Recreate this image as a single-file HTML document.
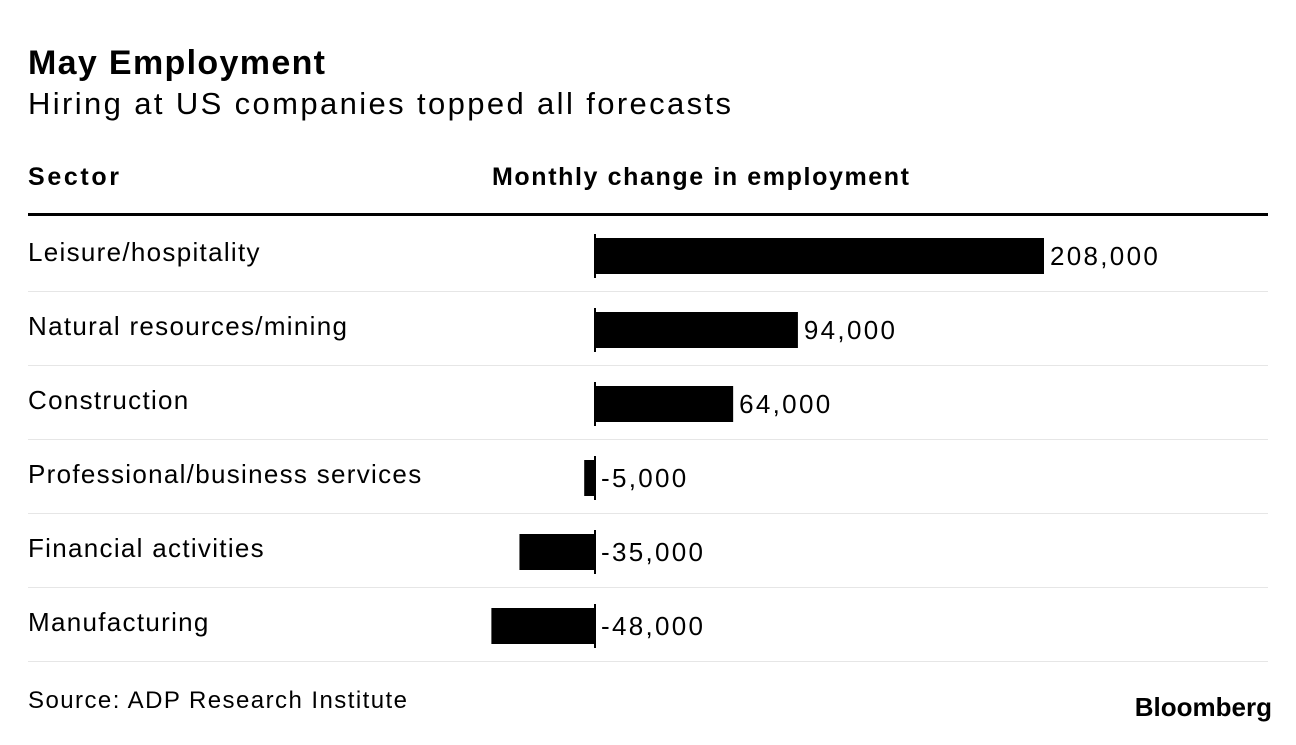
<!DOCTYPE html>
<html><head><meta charset="utf-8"><style>
body{margin:0;background:#fff;width:1296px;height:740px;overflow:hidden;font-family:"Liberation Sans",Arial,sans-serif;color:#000}
svg text{font-family:"Liberation Sans",Arial,sans-serif}
</style></head><body>
<svg width="1296" height="740">
<text x="28" y="74" font-size="34" font-weight="bold" textLength="297" lengthAdjust="spacing">May Employment</text>
<text x="28" y="114" font-size="31" textLength="703" lengthAdjust="spacing">Hiring at US companies topped all forecasts</text>
<text x="28" y="185" font-size="25" font-weight="bold" textLength="91" lengthAdjust="spacing">Sector</text>
<text x="492" y="185" font-size="25" font-weight="bold" textLength="417" lengthAdjust="spacing">Monthly change in employment</text>
<rect x="28" y="213" width="1240" height="3" fill="#000"/>
<g id="rows"></g>
<text x="28" y="708" font-size="24" textLength="379" lengthAdjust="spacing">Source: ADP Research Institute</text>
<text x="1272" y="716" font-size="26" font-weight="bold" text-anchor="end">Bloomberg</text>
</svg>
<script>
const categories=["Leisure/hospitality","Natural resources/mining","Construction","Professional/business services","Financial activities","Manufacturing"];
const values=[208000,94000,64000,-5000,-35000,-48000];
const labels=["208,000","94,000","64,000","-5,000","-35,000","-48,000"];
const NS="http://www.w3.org/2000/svg";
const g=document.getElementById("rows");
const x0=595, k=449/208000;
function xs(v){return x0+v*k;}
function mk(t,a){const e=document.createElementNS(NS,t);for(const n in a)e.setAttribute(n,a[n]);g.appendChild(e);return e;}
categories.forEach((c,i)=>{
  const top=238+i*74;
  let t=mk("text",{x:28,y:top+23,"font-size":26,"letter-spacing":1.3});t.textContent=c;
  
  
  const v=values[i];const a=xs(0),b=xs(v);
  let r=mk("rect",{x:Math.min(a,b),y:top,width:Math.abs(b-a),height:36,fill:"#000"});
  
  
  let z=mk("rect",{x:x0-1,y:top-4,width:2,height:44,fill:"#000"});
  
  
  let lx=(v>0?b:a)+6;
  let vl=mk("text",{x:lx,y:top+27,"font-size":26,"letter-spacing":2.3});vl.textContent=labels[i];
  
  
  let s=mk("rect",{x:28,y:top+53,width:1240,height:1,fill:"#e6e6e6"});
  
  
});
</script>
</body></html>
